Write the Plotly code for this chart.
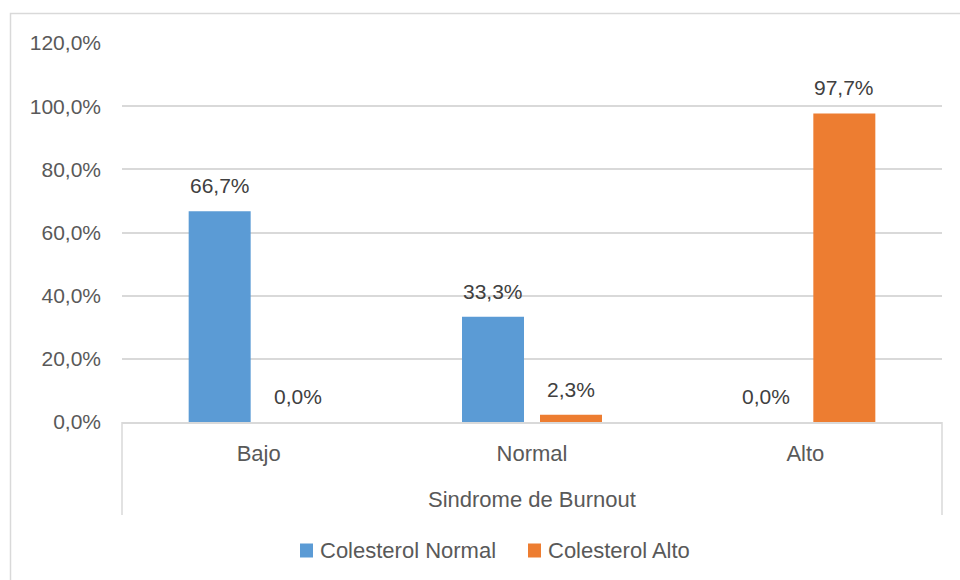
import plotly.graph_objects as go

# Síndrome de Burnout vs colesterol (porcentajes)
categories = ["Bajo", "Normal", "Alto"]
colesterol_normal = [66.7, 33.3, 0.0]
colesterol_alto = [0.0, 2.3, 97.7]
series_names = ["Colesterol Normal", "Colesterol Alto"]
y_ticks = [0, 20, 40, 60, 80, 100, 120]
group_title = "Sindrome de Burnout"

W, H = 960, 580
PX_L, PX_R = 122, 942      # plot area, pixels
PX_T, PX_B = 43, 422
BLUE = "#5B9BD5"
ORANGE = "#ED7D31"
TXT = "#595959"
GRID = "#D9D9D9"
FONT = "Liberation Sans, Arial, sans-serif"


def px_x(p):
    return p / W


def px_y(p):
    return 1 - p / H


def pct(v):
    return f"{v:.1f}%".replace(".", ",")


cat_px = (PX_R - PX_L) / len(categories)
bar_w = 62 / cat_px
gap = 16 / cat_px
colors = [BLUE, ORANGE]
series = [colesterol_normal, colesterol_alto]
offsets = [-bar_w - gap / 2, gap / 2]

fig = go.Figure()
for name, vals, col, off in zip(series_names, series, colors, offsets):
    fig.add_trace(go.Bar(
        x=categories, y=vals, name=name,
        marker=dict(color=col, line=dict(width=0)),
        width=bar_w, offset=off, showlegend=False,
    ))

# value labels above each bar
shift = (bar_w + gap) / 2 * cat_px
for vals, dx in zip(series, (-shift, shift)):
    for c, v in zip(categories, vals):
        fig.add_annotation(
            x=c, y=v, xref="x", yref="y", xshift=dx, yshift=12,
            text=pct(v), showarrow=False, yanchor="bottom",
            font=dict(family=FONT, size=21, color="#404040"),
        )

# grouping level of the category axis
fig.add_annotation(
    x=px_x((PX_L + PX_R) / 2), y=px_y(500), xref="paper", yref="paper",
    text=group_title, showarrow=False, yanchor="middle",
    font=dict(family=FONT, size=22, color=TXT),
)

shapes = []
for xp in (PX_L, PX_R):
    shapes.append(dict(type="line", xref="paper", yref="paper",
                       x0=px_x(xp), x1=px_x(xp), y0=px_y(PX_B), y1=px_y(515),
                       line=dict(color=GRID, width=1.5)))
shapes.append(dict(type="rect", xref="paper", yref="paper",
                   x0=px_x(10.5), x1=1.2, y0=-0.2, y1=px_y(13.5),
                   line=dict(color=GRID, width=1.5), fillcolor="rgba(0,0,0,0)"))

# legend: colour key squares followed by the series names
legend_pos = [(300, 318), (528, 546)]
for (sq_x, tx_x), col, name in zip(legend_pos, colors, series_names):
    shapes.append(dict(type="rect", xref="paper", yref="paper",
                       x0=px_x(sq_x), x1=px_x(sq_x + 13),
                       y0=px_y(557.5), y1=px_y(543.5),
                       line=dict(width=0), fillcolor=col))
    fig.add_annotation(
        x=px_x(tx_x), y=px_y(550.5), xref="paper", yref="paper",
        text=name, showarrow=False, xanchor="left", yanchor="middle",
        font=dict(family=FONT, size=22, color=TXT),
    )
fig.update_layout(shapes=shapes)

fig.update_layout(
    width=W, height=H,
    margin=dict(l=0, r=0, t=0, b=0, autoexpand=False),
    paper_bgcolor="white", plot_bgcolor="white",
    barmode="overlay",
    separators=",.",
    showlegend=False,
    font=dict(family=FONT, size=21, color=TXT),
    xaxis=dict(
        domain=[px_x(PX_L), px_x(PX_R)],
        type="category", categoryorder="array", categoryarray=categories,
        showgrid=False, showline=True, linecolor=GRID, linewidth=1.5,
        ticks="", ticklabelstandoff=11, automargin=False,
        tickfont=dict(family=FONT, size=22, color=TXT),
        fixedrange=True,
    ),
    yaxis=dict(
        domain=[px_y(PX_B), px_y(PX_T)],
        range=[0, 120], tickvals=y_ticks,
        ticktext=[pct(t) for t in y_ticks],
        showgrid=True, gridcolor=GRID, gridwidth=1.5,
        showline=False, zeroline=False, ticks="", ticklabelstandoff=20,
        automargin=False,
        tickfont=dict(family=FONT, size=21, color=TXT),
        fixedrange=True,
    ),
)

fig.write_html("out.html")
